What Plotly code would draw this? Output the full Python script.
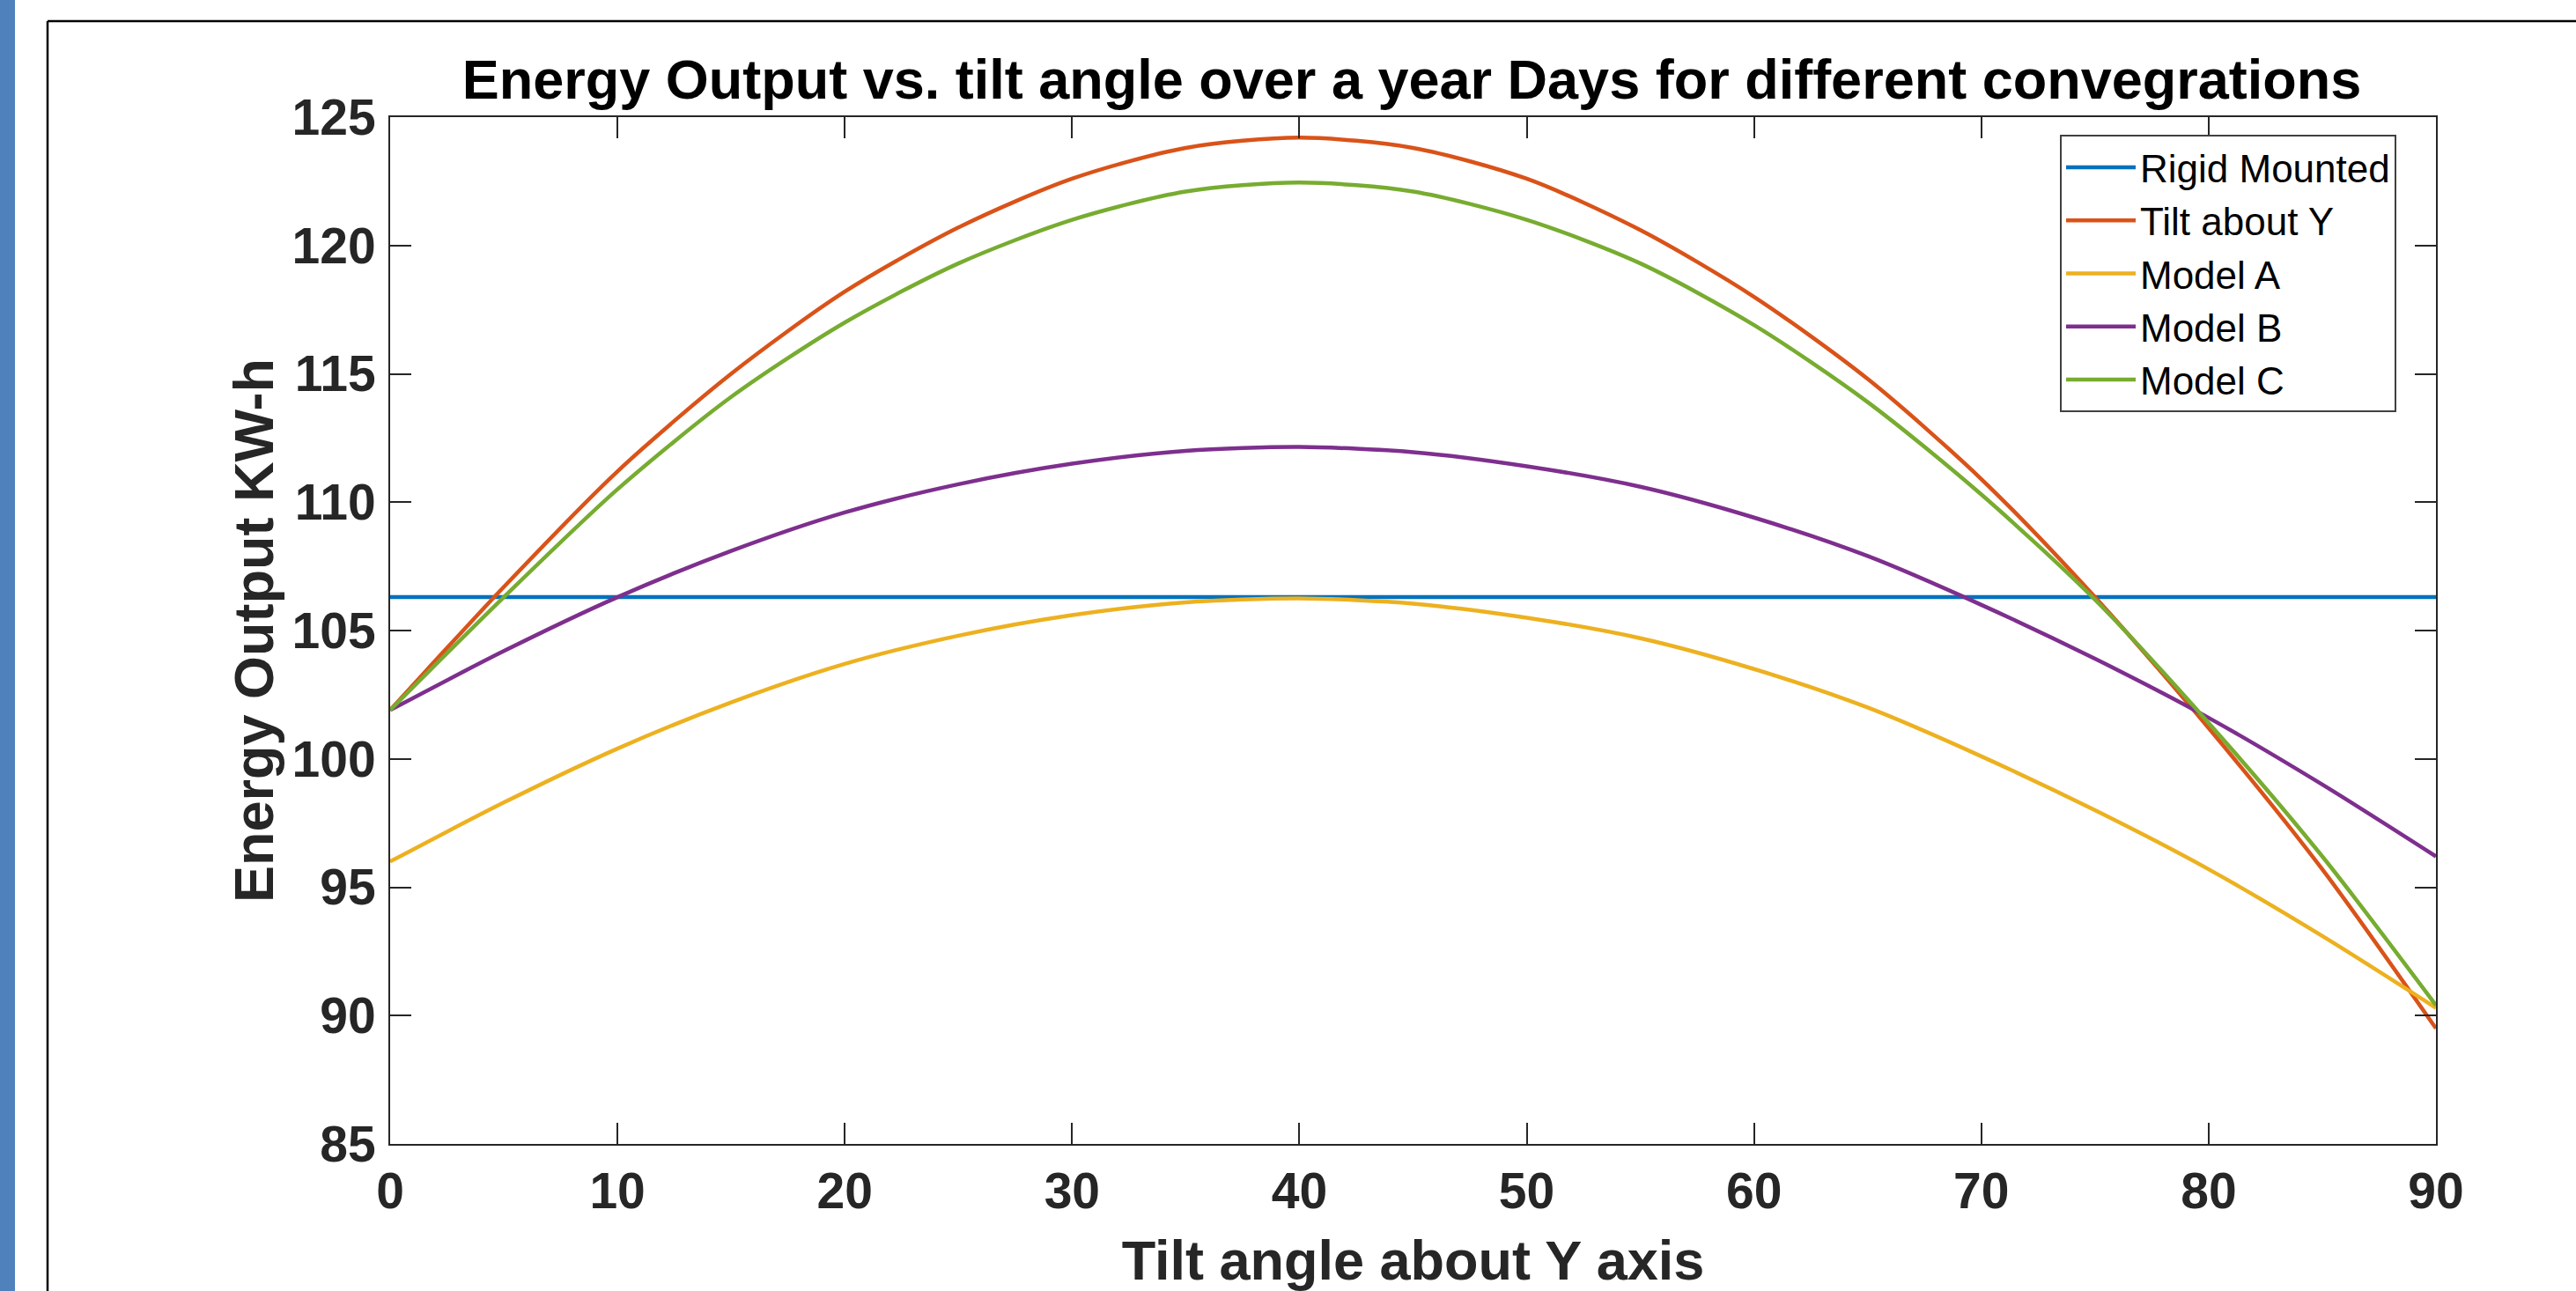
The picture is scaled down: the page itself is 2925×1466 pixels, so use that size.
import plotly.graph_objects as go

# ---- data ----
tilt_angle = [0, 5, 10, 15, 20, 25, 30, 35, 40, 45, 50, 55, 60, 65, 70, 75, 80, 85, 90]

rigid_mounted = [106.3] * len(tilt_angle)
tilt_about_y = [101.9, 106.7, 111.2, 115.0, 118.2, 120.7, 122.6, 123.8, 124.2, 123.8,
                122.6, 120.6, 118.0, 114.8, 110.9, 106.3, 101.2, 95.7, 89.5]
model_a = [96.0, 98.3, 100.4, 102.2, 103.7, 104.8, 105.6, 106.1, 106.25, 106.05,
           105.5, 104.7, 103.5, 102.0, 100.1, 98.0, 95.7, 93.1, 90.3]
model_b = [101.9, 104.2, 106.3, 108.1, 109.6, 110.7, 111.5, 112.0, 112.15, 111.95,
           111.4, 110.6, 109.4, 107.9, 106.0, 103.9, 101.6, 99.0, 96.2]
model_c = [101.9, 106.3, 110.5, 114.1, 117.0, 119.3, 121.0, 122.1, 122.45, 122.1,
           121.0, 119.3, 116.9, 113.9, 110.3, 106.2, 101.4, 96.2, 90.4]

series_names = ["Rigid Mounted", "Tilt about Y", "Model A", "Model B", "Model C"]
series_values = [rigid_mounted, tilt_about_y, model_a, model_b, model_c]
series_colors = ["#0072BD", "#D95319", "#EDB120", "#7E2F8E", "#77AC30"]

x_ticks = [0, 10, 20, 30, 40, 50, 60, 70, 80, 90]
y_ticks = [85, 90, 95, 100, 105, 110, 115, 120, 125]

title_text = "Energy Output vs. tilt angle over a year Days for different convegrations"
x_title = "Tilt angle about Y axis"
y_title = "Energy Output KW-h"

# ---- figure ----
W, H = 2925, 1466
L, R, T, B = 443, 159, 133, 167
pw, ph = W - L - R, H - T - B

FONT = "Liberation Sans, Arial, Helvetica, sans-serif"
AX = "#262626"

fig = go.Figure()
for name, vals, col in zip(series_names, series_values, series_colors):
    fig.add_trace(go.Scatter(
        x=tilt_angle, y=vals, name=name, mode="lines",
        line=dict(color=col, width=4.5, shape="spline", smoothing=0.8),
    ))


def px_x(p):
    return (p - L) / pw


def px_y(p):
    return (H - B - p) / ph


shapes = [
    # blue strip on the far left of the page
    dict(type="rect", xref="paper", yref="paper",
         x0=px_x(0), x1=px_x(17), y0=px_y(H + 5), y1=px_y(-5),
         fillcolor="#4F81BD", line=dict(width=0), layer="above"),
    # black frame around the figure
    dict(type="line", xref="paper", yref="paper",
         x0=px_x(54), x1=px_x(W + 10), y0=px_y(24), y1=px_y(24),
         line=dict(color="black", width=2.5)),
    dict(type="line", xref="paper", yref="paper",
         x0=px_x(54), x1=px_x(54), y0=px_y(24), y1=px_y(H + 10),
         line=dict(color="black", width=2.5)),
]

axis_common = dict(
    showgrid=False, zeroline=False,
    showline=True, linecolor=AX, linewidth=2, mirror="ticks",
    ticks="inside", ticklen=24, tickwidth=2, tickcolor=AX,
    tickfont=dict(family=FONT, size=57, color=AX, weight="bold"),
)

fig.update_layout(
    width=W, height=H,
    margin=dict(l=L, r=R, t=T, b=B, autoexpand=False),
    paper_bgcolor="white", plot_bgcolor="white",
    title=dict(text=title_text, xref="container", yref="container",
               x=1603 / W, xanchor="center", y=1 - 90 / H, yanchor="middle",
               font=dict(family=FONT, size=63, color="black", weight="bold")),
    xaxis=dict(range=[0, 90], tickvals=x_ticks, ticktext=[str(v) for v in x_ticks],
               ticklabelstandoff=3,
               title=dict(text=x_title, standoff=27,
                          font=dict(family=FONT, size=63, color=AX, weight="bold")),
               **axis_common),
    yaxis=dict(range=[85, 125], tickvals=y_ticks, ticktext=[str(v) for v in y_ticks],
               ticklabelstandoff=3,
               title=dict(text=y_title, standoff=0,
                          font=dict(family=FONT, size=63, color=AX, weight="bold")),
               **axis_common),
    showlegend=True,
    legend=dict(x=px_x(2339), y=px_y(153), xanchor="left", yanchor="top",
                bgcolor="white", bordercolor="#404040", borderwidth=2,
                font=dict(family=FONT, size=44, color="black"),
                itemwidth=79, tracegroupgap=0),
    shapes=shapes,
)

fig.write_html("out.html")
